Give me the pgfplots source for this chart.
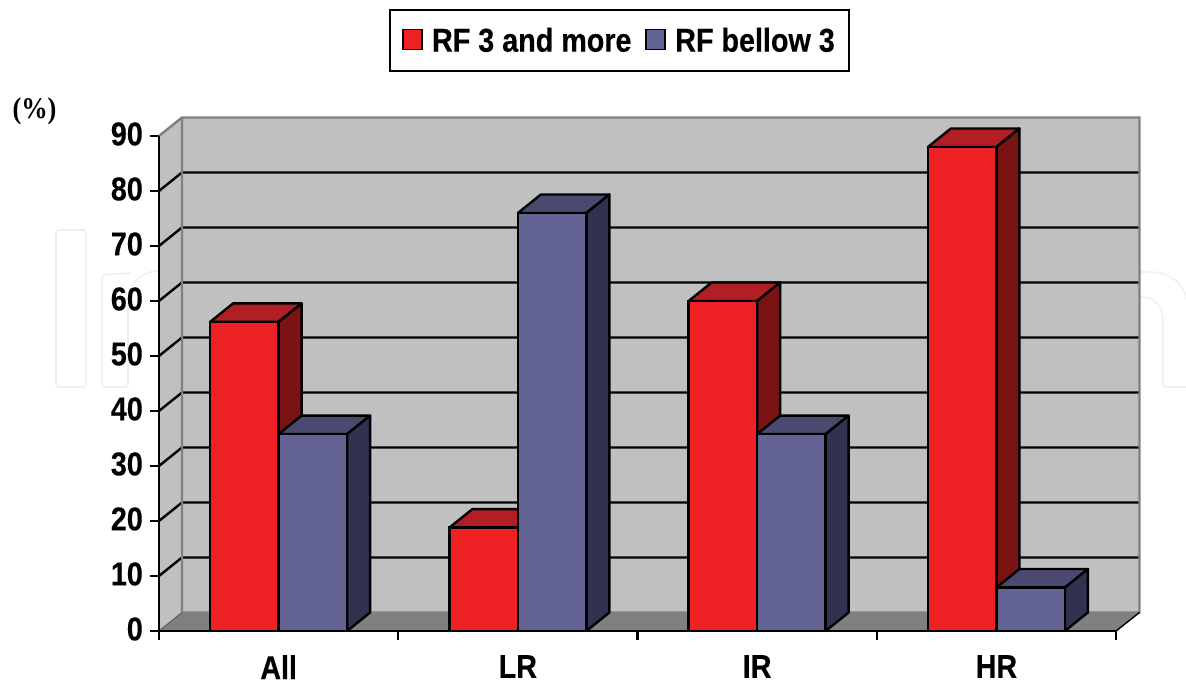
\documentclass[border=0pt]{standalone}
\usepackage{fontspec}
\setmainfont[FakeStretch=0.87,BoldFeatures={FakeBold=0.3}]{Liberation Sans}
\newfontfamily\timesb[FakeStretch=0.88]{Liberation Serif}
\usepackage{pgfplots}
\usepackage{pgfplotstable}
\pgfplotsset{compat=1.18}
\definecolor{redF}{HTML}{EE2224}
\definecolor{redT}{HTML}{B11E23}
\definecolor{redS}{HTML}{7B1214}
\definecolor{bluF}{HTML}{636394}
\definecolor{bluT}{HTML}{4A4A70}
\definecolor{bluS}{HTML}{323250}
\definecolor{wallc}{HTML}{C0C0C0}
\definecolor{floorc}{HTML}{808080}
\definecolor{wm}{HTML}{F0F0F0}
\pgfplotstableread{
x v
0.5 56.2
1.5 18.8
2.5 60
3.5 88
}\redtab
\pgfplotstableread{
x v
0.5 35.8
1.5 76
2.5 35.8
3.5 7.9
}\blutab
% 3D faces of a bar: left edge, right edge, value, top colour, side colour
\newcommand{\Faces}[5]{%
  \pgfmathsetmacro{\xa}{#1+0.0961}%
  \pgfmathsetmacro{\xb}{#2+0.0961}%
  \pgfmathsetmacro{\yb}{#3+3.364}%
  \addplot[forget plot,mark=none,fill=#4,draw=black,line width=2.4pt,line join=round] coordinates {(#1,#3)(\xa,\yb)(\xb,\yb)(#2,#3)} -- cycle;
  \addplot[forget plot,mark=none,fill=#5,draw=black,line width=2.4pt,line join=round] coordinates {(#2,#3)(\xb,\yb)(\xb,3.364)(#2,0)} -- cycle;
}
\begin{document}
\begin{tikzpicture}[x=1pt,y=1pt]
\path[use as bounding box] (0,0) rectangle (1186,685);
% faint watermark behind the chart
\begin{scope}[draw=wm,line width=1.6pt,yscale=-1,yshift=-685pt]
\draw[rounded corners=3pt] (56,230) rectangle (86,387);
\draw[rounded corners=3pt] (159,271) .. controls (140,271) and (130,285) .. (128,300) -- (128,387) -- (102,387) -- (102,275) -- (130,273);
\draw (1139,272) -- (1150,272) .. controls (1170,272) and (1186,285) .. (1186,300);
\draw[rounded corners=3pt] (1139,297) .. controls (1155,297) and (1163,305) .. (1163,325) -- (1163,387) -- (1186,387);
\end{scope}
\begin{axis}[
  at={(159pt,54pt)},anchor=south west,
  scale only axis,width=980.5pt,height=513.5pt,
  xmin=0,xmax=4.098,ymin=0,ymax=93.36,
  clip=false,
  axis lines=left,
  axis line style={draw=none,-},
  xtick={0,1,2,3,4},xticklabels={},
  extra x ticks={0.5,1.5,2.5,3.5},
  extra x tick labels={All,LR,IR,HR},
  extra x tick style={major tick length=0pt,tick label style={font=\bfseries\fontsize{33}{33}\selectfont,inner sep=0pt,yshift=-24pt,anchor=north}},
  ytick={0,10,...,90},
  tick align=outside,
  major tick length=9pt,
  tick style={black,line width=2.4pt},
  /pgf/number format/assume math mode=true,
  yticklabel style={font=\bfseries\fontsize{33}{33}\selectfont,inner sep=0pt,xshift=-7pt,yshift=2pt},
  legend columns=2,
  legend cell align=left,
  legend style={at={(0.4697,1.150)},anchor=center,draw=black,line width=2.4pt,
    font=\bfseries\fontsize{33}{33}\selectfont,inner xsep=12pt,inner ysep=16pt,
    /tikz/every even column/.style={column sep=12pt},
    /tikz/every odd column/.style={column sep=7pt},
    nodes={inner sep=2pt}},
  legend image code/.code={\draw[#1,line width=1.8pt,draw=black] (0pt,-9pt) rectangle (19pt,11pt);},
]
% side wall, back wall, floor
\addplot[forget plot,mark=none,fill=wallc,draw=none] coordinates {(0,0)(0.0961,3.364)(0.0961,93.36)(0,90)} -- cycle;
\addplot[forget plot,mark=none,fill=wallc,draw=none] coordinates {(0.0961,3.364)(4.098,3.364)(4.098,93.36)(0.0961,93.36)} -- cycle;
\addplot[forget plot,mark=none,fill=floorc,draw=none] coordinates {(0,0)(0.0961,3.364)(4.098,3.364)(4,0)} -- cycle;
% grid lines
\addplot[forget plot,mark=none,black,line width=2.4pt] coordinates {(0,10)(0.0961,13.364)(4.098,13.364)};
\addplot[forget plot,mark=none,black,line width=2.4pt] coordinates {(0,20)(0.0961,23.364)(4.098,23.364)};
\addplot[forget plot,mark=none,black,line width=2.4pt] coordinates {(0,30)(0.0961,33.364)(4.098,33.364)};
\addplot[forget plot,mark=none,black,line width=2.4pt] coordinates {(0,40)(0.0961,43.364)(4.098,43.364)};
\addplot[forget plot,mark=none,black,line width=2.4pt] coordinates {(0,50)(0.0961,53.364)(4.098,53.364)};
\addplot[forget plot,mark=none,black,line width=2.4pt] coordinates {(0,60)(0.0961,63.364)(4.098,63.364)};
\addplot[forget plot,mark=none,black,line width=2.4pt] coordinates {(0,70)(0.0961,73.364)(4.098,73.364)};
\addplot[forget plot,mark=none,black,line width=2.4pt] coordinates {(0,80)(0.0961,83.364)(4.098,83.364)};
% wall edges
\addplot[forget plot,mark=none,floorc,line width=2.4pt] coordinates {(0,90)(0.0961,93.36)(4.098,93.36)(4.098,3.364)(0.0961,3.364)(0.0961,93.36)};
\addplot[forget plot,mark=none,floorc!70!black,line width=1pt] coordinates {(0,0)(0.0961,3.364)};
\addplot[forget plot,mark=none,black,line width=1.4pt] coordinates {(4,0)(4.098,3.364)};
% red bars
\Faces{0.2137}{0.5}{56.2}{redT}{redS}
\Faces{1.2137}{1.5}{18.8}{redT}{redS}
\Faces{2.2137}{2.5}{60}{redT}{redS}
\Faces{3.2137}{3.5}{88}{redT}{redS}
\addplot[ybar,bar width=68.5pt,bar shift=-34.25pt,fill=redF,draw=black,line width=2.4pt,mark=none] table[x=x,y=v] {\redtab};
\addlegendentry{RF 3 and more}
% blue bars
\Faces{0.5}{0.7863}{35.8}{bluT}{bluS}
\Faces{1.5}{1.7863}{76}{bluT}{bluS}
\Faces{2.5}{2.7863}{35.8}{bluT}{bluS}
\Faces{3.5}{3.7863}{7.9}{bluT}{bluS}
\addplot[ybar,bar width=68.5pt,bar shift=34.25pt,fill=bluF,draw=black,line width=2.4pt,mark=none] table[x=x,y=v] {\blutab};
\addlegendentry{RF bellow 3}
% front axis lines
\addplot[forget plot,mark=none,black,line width=2.6pt] coordinates {(0,90)(0,0)(4,0)};
\end{axis}
\node[font=\timesb\bfseries\fontsize{30}{30}\selectfont,inner sep=0pt] at (34.5,574) {(\%)};
\end{tikzpicture}
\end{document}
